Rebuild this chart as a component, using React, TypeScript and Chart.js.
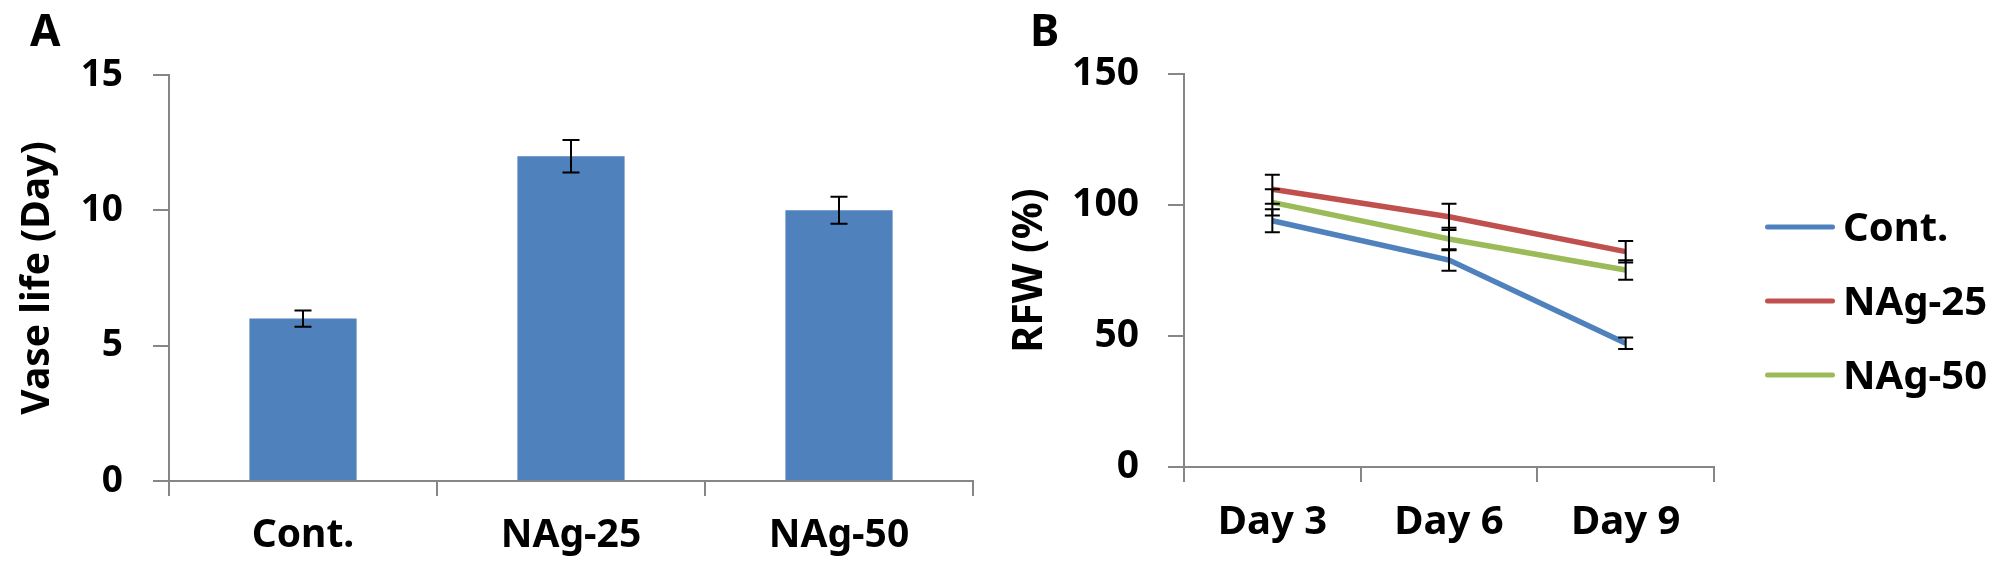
import { useEffect, useRef } from "react";
import { Chart, registerables, ChartConfiguration, Plugin } from "chart.js";

Chart.register(...registerables);
Chart.defaults.font.family = "'Noto Sans', sans-serif";
Chart.defaults.color = "#000";

// panel A: vase life
const groups = ["Cont.", "NAg-25", "NAg-50"];
const vaseLife = [6, 12, 10];
const vaseLifeErr = [0.3, 0.6, 0.5];

// panel B: relative fresh weight
const days = ["Day 3", "Day 6", "Day 9"];
const contRfw = [94, 79, 47.2];
const contErr = [4.4, 4.1, 2.2];
const nag25Rfw = [106, 95.5, 82.2];
const nag25Err = [5.5, 5, 4.1];
const nag50Rfw = [101, 87, 75.2];
const nag50Err = [5, 4.3, 3.7];

const AXIS = "#868686";

const errorBars: Plugin = {
  id: "errorBars",
  afterDatasetsDraw(chart, _args, opts: any) {
    const { ctx } = chart;
    const y = chart.scales.y;
    const cap = opts.cap ?? 8;
    chart.data.datasets.forEach((ds: any, i) => {
      const errs: number[] | undefined = ds.errors;
      if (!errs) return;
      const meta = chart.getDatasetMeta(i);
      meta.data.forEach((el: any, j) => {
        const v = ds.data[j] as number;
        const top = y.getPixelForValue(v + errs[j]);
        const bot = y.getPixelForValue(v - errs[j]);
        const x = el.x;
        ctx.save();
        ctx.strokeStyle = "#000";
        ctx.lineWidth = 2;
        ctx.beginPath();
        ctx.moveTo(x, top);
        ctx.lineTo(x, bot);
        ctx.moveTo(x - cap, top);
        ctx.lineTo(x + cap, top);
        ctx.moveTo(x - cap, bot);
        ctx.lineTo(x + cap, bot);
        ctx.stroke();
        ctx.restore();
      });
    });
  },
};

// legend to the right of panel B, lines + labels
const sideLegend: Plugin = {
  id: "sideLegend",
  afterDraw(chart, _args, opts: any) {
    const { ctx } = chart;
    ctx.save();
    ctx.font = "bold 40px 'Noto Sans', sans-serif";
    ctx.fillStyle = "#000";
    ctx.textBaseline = "alphabetic";
    ctx.textAlign = "left";
    chart.data.datasets.forEach((ds: any, i) => {
      const y = opts.top + i * opts.gap;
      ctx.strokeStyle = ds.borderColor;
      ctx.lineWidth = 5;
      ctx.lineCap = "round";
      ctx.beginPath();
      ctx.moveTo(opts.x + 2.5, y);
      ctx.lineTo(opts.x + opts.len - 2.5, y);
      ctx.stroke();
      ctx.fillText(ds.label, opts.x + opts.len + 8, y + 14);
    });
    ctx.restore();
  },
};

function barConfig(): ChartConfiguration<"bar"> {
  return {
    type: "bar",
    data: {
      labels: groups,
      datasets: [
        {
          data: vaseLife,
          errors: vaseLifeErr,
          backgroundColor: "#4F81BD",
          barPercentage: 0.4,
          categoryPercentage: 1,
        } as any,
      ],
    },
    options: {
      responsive: false,
      animation: false,
      layout: { padding: { top: 75, right: 27, left: 0, bottom: 0 } },
      plugins: {
        legend: { display: false },
        tooltip: { enabled: false },
        errorBars: { cap: 8.5 },
      } as any,
      scales: {
        x: {
          grid: { offset: true, drawOnChartArea: false, tickLength: 15, color: AXIS, lineWidth: 2 },
          border: { color: AXIS, width: 2 },
          ticks: { padding: 16, font: { size: 39, weight: "bold" } },
          afterFit: (s) => {
            s.height = 100;
          },
        },
        y: {
          min: 0,
          max: 15,
          ticks: { stepSize: 5, padding: 30, font: { size: 37, weight: "bold" } },
          grid: { drawOnChartArea: false, tickLength: 16, color: AXIS, lineWidth: 2 },
          border: { color: AXIS, width: 2 },
          title: {
            display: true,
            text: "Vase life (Day)",
            font: { size: 39, weight: "bold" },
            padding: { top: 14, bottom: 0 },
          },
          afterFit: (s) => {
            s.width = 169;
          },
        },
      },
    },
    plugins: [errorBars],
  };
}

function lineConfig(): ChartConfiguration<"line"> {
  const series = (label: string, data: number[], errors: number[], color: string) =>
    ({
      label,
      data,
      errors,
      borderColor: color,
      backgroundColor: color,
      borderWidth: 5.5,
      pointRadius: 0,
      tension: 0,
      fill: false,
    }) as any;
  return {
    type: "line",
    data: {
      labels: days,
      datasets: [
        series("Cont.", contRfw, contErr, "#4F81BD"),
        series("NAg-25", nag25Rfw, nag25Err, "#C0504D"),
        series("NAg-50", nag50Rfw, nag50Err, "#9BBB59"),
      ],
    },
    options: {
      responsive: false,
      animation: false,
      layout: { padding: { top: 74, right: 292, left: 0, bottom: 0 } },
      plugins: {
        legend: { display: false },
        tooltip: { enabled: false },
        errorBars: { cap: 7.5 },
        sideLegend: { x: 765, len: 70, top: 227, gap: 74 },
      } as any,
      scales: {
        x: {
          offset: true,
          grid: { offset: true, drawOnChartArea: false, tickLength: 15, color: AXIS, lineWidth: 2 },
          border: { color: AXIS, width: 2 },
          ticks: { padding: 17, font: { size: 40, weight: "bold" } },
          afterFit: (s) => {
            s.height = 114;
          },
        },
        y: {
          min: 0,
          max: 150,
          ticks: { stepSize: 50, padding: 29, font: { size: 39, weight: "bold" } },
          grid: { drawOnChartArea: false, tickLength: 16, color: AXIS, lineWidth: 2 },
          border: { color: AXIS, width: 2 },
          title: {
            display: true,
            text: "RFW (%)",
            font: { size: 41, weight: "bold" },
            padding: { top: 6, bottom: 0 },
          },
          afterFit: (s) => {
            s.width = 184;
          },
        },
      },
    },
    plugins: [errorBars, sideLegend],
  };
}

function ChartCanvas({ make, left, width }: { make: () => ChartConfiguration<any>; left: number; width: number }) {
  const ref = useRef<HTMLCanvasElement>(null);
  useEffect(() => {
    if (!ref.current) return;
    const chart = new Chart(ref.current, make());
    return () => chart.destroy();
  }, [make]);
  return (
    <canvas
      ref={ref}
      width={width}
      height={581}
      style={{ position: "absolute", left, top: 0, width, height: 581 }}
    />
  );
}

const panelLetter = {
  position: "absolute" as const,
  top: 7,
  fontFamily: "'Noto Sans', sans-serif",
  fontWeight: "bold" as const,
  fontSize: 44,
  lineHeight: 1,
  color: "#000",
};

export default function App() {
  return (
    <div style={{ position: "relative", width: 2006, height: 581, margin: -8, background: "#fff" }}>
      <ChartCanvas make={barConfig} left={0} width={1000} />
      <ChartCanvas make={lineConfig} left={1000} width={1006} />
      <div style={{ ...panelLetter, left: 30 }}>A</div>
      <div style={{ ...panelLetter, left: 1030 }}>B</div>
    </div>
  );
}
